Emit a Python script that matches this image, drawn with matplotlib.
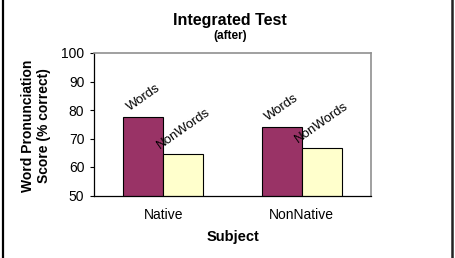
import numpy as np
import matplotlib
matplotlib.use("Agg")
import matplotlib.pyplot as plt
from matplotlib.lines import Line2D

plt.rcParams['font.family'] = ['Liberation Sans', 'DejaVu Sans']

###### DATA ######

subjects = ["Native", "NonNative"]
series_names = ["Words", "NonWords"]
words = [77.5, 73.9]
nonwords = [64.4, 66.5]
yticks = [50, 60, 70, 80, 90, 100]

###### PLOT ######

W, H = 456, 258
fig = plt.figure(figsize=(W / 100, H / 100), dpi=100)
ax = fig.add_axes([94 / W, 1 - 195.5 / H, (371 - 94) / W, (195.5 - 53) / H])

x = np.arange(len(subjects))
bw = 0.289
colors = ["#993366", "#FFFFCC"]
for i, (name, vals) in enumerate(zip(series_names, [words, nonwords])):
    xs = x + (i - 0.5) * bw
    ax.bar(xs, vals, width=bw, bottom=0, color=colors[i], edgecolor="black", linewidth=0.8)
    for xi, v in zip(xs, vals):
        ax.annotate(name, (xi, v), xytext=(0, 2.5), textcoords="offset points",
                    ha="center", va="bottom", rotation=35, fontsize=9.5)

ax.set_xlim(-0.5, 1.5)
ax.set_ylim(50, 100)
ax.set_yticks(yticks)
ax.set_xticks(x)
ax.set_xticklabels(subjects, fontsize=10)
ax.tick_params(axis="x", length=0, pad=9)
ax.tick_params(axis="y", length=3, width=0.8, pad=4, labelsize=10, direction="out")

for side in ["top", "right"]:
    ax.spines[side].set_color("#909090")
    ax.spines[side].set_linewidth(1.2)
for side in ["left", "bottom"]:
    ax.spines[side].set_color("black")
    ax.spines[side].set_linewidth(0.9)

fig.text(230 / W, 1 - 20 / H, "Integrated Test", ha="center", va="center",
         fontsize=11.5, fontweight="bold")
fig.text(230 / W, 1 - 36.5 / H, "(after)", ha="center", va="center",
         fontsize=8.5, fontweight="bold")
fig.text(36 / W, 1 - 126 / H, "Word Pronunciation\nScore (% correct)", ha="center",
         va="center", rotation=90, multialignment="center", fontsize=10,
         fontweight="bold", linespacing=1.25)
fig.text(232.5 / W, 1 - 237.5 / H, "Subject", ha="center", va="center",
         fontsize=10.5, fontweight="bold")

# outer frame (left / right edges)
fig.add_artist(Line2D([3.5 / W, 3.5 / W], [0, 1], color="black", linewidth=1.6))
fig.add_artist(Line2D([452 / W, 452 / W], [0, 1], color="#222222", linewidth=1.8))

fig.savefig("out.png", dpi=100)
